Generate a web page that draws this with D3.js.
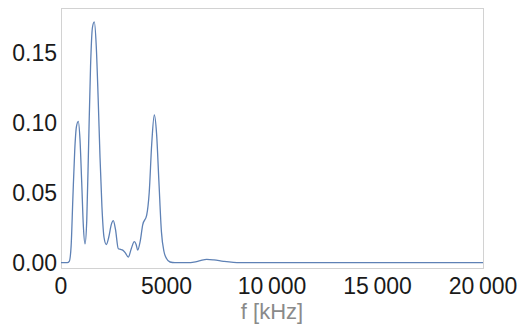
<!DOCTYPE html>
<html>
<head>
<meta charset="utf-8">
<script src="https://cdn.jsdelivr.net/npm/d3@7"></script>
<style>
  body { margin: 0; background: #fff; }
  text { font-family: "Liberation Sans", Arial, sans-serif; }
</style>
</head>
<body>
<div class="container"></div>
<script>
// spectrum
var freq = [0, 300, 393, 480, 560, 650, 730, 820, 900, 980, 1060, 1137, 1220, 1310, 1400, 1490, 1578, 1670, 1760, 1850, 1940, 2040, 2147, 2260, 2380, 2479, 2580, 2716, 2820, 2924, 3050, 3189, 3330, 3474, 3560, 3635, 3750, 3872, 4061, 4180, 4300, 4422, 4530, 4640, 4760, 4880, 5000, 5166, 5400, 6000, 6300, 6600, 6905, 7250, 7700, 8480, 10000, 15000, 20000];
var amp  = [0, 0, 0.001, 0.012, 0.045, 0.080, 0.097, 0.101, 0.088, 0.058, 0.026, 0.0134, 0.030, 0.085, 0.140, 0.168, 0.172, 0.155, 0.118, 0.075, 0.040, 0.018, 0.013, 0.018, 0.027, 0.030, 0.024, 0.010, 0.0095, 0.009, 0.007, 0.004, 0.010, 0.015, 0.013, 0.009, 0.015, 0.027, 0.034, 0.050, 0.085, 0.1055, 0.092, 0.058, 0.022, 0.008, 0.003, 0.0005, 0, 0, 0.0004, 0.0015, 0.0024, 0.002, 0.001, 0, 0, 0, 0];
var xTicks = [0, 5000, 10000, 15000, 20000];
var yTicks = [0, 0.05, 0.10, 0.15];

var data = freq.map(function(f, i) { return {f: f, a: amp[i]}; });

var W = 527, H = 331;
var frame = {left: 61, right: 483, top: 8, bottom: 268};

var svg = d3.select(".container")
  .append("svg")
    .attr("width", W)
    .attr("height", H);

var x = d3.scaleLinear()
  .domain([0, 20000])
  .range([frame.left, frame.right]);

var y = d3.scaleLinear()
  .domain([0, 0.15])
  .range([262.7, 52.7]);

// frame
svg.append("rect")
  .attr("x", frame.left + 0.5)
  .attr("y", frame.top + 0.5)
  .attr("width", frame.right - frame.left)
  .attr("height", frame.bottom - frame.top)
  .attr("fill", "none")
  .attr("stroke", "#d2d2d2")
  .attr("stroke-width", 1);

var fmtX = function(d) {
  var s = String(d);
  if (s.length > 4) s = s.slice(0, s.length - 3) + "\u2009" + s.slice(-3);
  return s;
};

svg.append("g")
  .selectAll("text")
  .data(xTicks)
  .enter()
  .append("text")
    .attr("x", function(d) { return x(d); })
    .attr("y", 294)
    .attr("text-anchor", "middle")
    .attr("font-size", 23)
    .attr("fill", "#1a1a1a")
    .text(fmtX);

svg.append("g")
  .selectAll("text")
  .data(yTicks)
  .enter()
  .append("text")
    .attr("x", 57)
    .attr("y", function(d) { return y(d); })
    .attr("dy", "0.36em")
    .attr("text-anchor", "end")
    .attr("font-size", 23)
    .attr("fill", "#1a1a1a")
    .text(function(d) { return d.toFixed(2); });

svg.append("text")
  .attr("x", 272)
  .attr("y", 319)
  .attr("text-anchor", "middle")
  .attr("font-size", 22)
  .attr("fill", "#8a8a8a")
  .text("f [kHz]");

svg.append("path")
  .datum(data)
  .attr("fill", "none")
  .attr("stroke", "#5E81B5")
  .attr("stroke-width", 1.3)
  .attr("d", d3.line()
    .curve(d3.curveMonotoneX)
    .x(function(d) { return x(d.f); })
    .y(function(d) { return y(d.a); })
  );
</script>
</body>
</html>
